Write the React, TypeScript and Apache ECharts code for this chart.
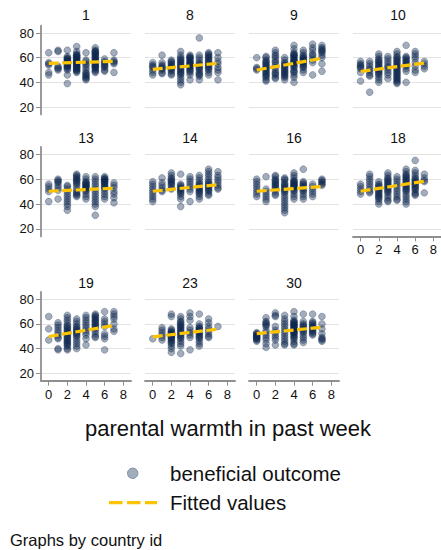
import React, { useEffect, useRef } from "react";
import * as echarts from "echarts";

// panel labels (country id), in reading order
const panelLabels = ["1", "8", "9", "10", "13", "14", "16", "18", "19", "23", "30"];

// beneficial outcome values, grouped by parental warmth (0..7)
const country1 = [
  [64, 56, 55, 54, 48, 46],
  [66, 65, 53, 52, 51, 50],
  [66, 61, 60, 59, 58, 57, 56, 55, 54, 53, 52, 51, 50, 46, 39, 59, 57, 55, 53],
  [69, 65, 63, 62, 61, 60, 59, 58, 57, 56, 55, 54, 53, 52, 51, 50, 49, 48, 62, 60, 58, 56, 54, 52, 50],
  [64, 58, 57, 55, 54, 52, 50, 48, 46, 44, 43, 42, 47, 45],
  [68, 66, 65, 64, 63, 62, 60, 59, 58, 57, 56, 55, 54, 53, 52, 51, 50, 49, 48, 65, 63, 61, 59, 57, 55, 53],
  [59, 57, 56, 55, 54, 53, 52, 50, 49],
  [64, 58, 57, 56, 55, 48],
];
const country8 = [
  [56, 54, 53, 52, 50, 48, 46],
  [62, 56, 54, 53, 51, 50, 48, 47, 52],
  [58, 57, 56, 55, 54, 53, 52, 51, 50, 49, 47, 46],
  [65, 62, 60, 59, 58, 57, 56, 55, 54, 53, 52, 51, 50, 49, 48, 47, 46, 44, 42, 40, 38],
  [62, 61, 60, 59, 58, 57, 56, 55, 54, 53, 52, 51, 50, 49, 48, 46, 42, 60, 56, 54],
  [76, 62, 60, 58, 56, 55, 54, 53, 52, 51, 50, 48, 47, 46, 45, 42],
  [64, 63, 62, 61, 60, 59, 58, 57, 56, 55, 54, 53, 52, 51, 50, 48, 46],
  [64, 60, 57, 55, 52, 50, 48, 42],
];
const country9 = [
  [60, 52, 51, 50],
  [61, 60, 58, 57, 56, 55, 54, 53, 52, 51, 50, 49, 48, 47, 46, 45, 44, 42, 41],
  [66, 64, 62, 61, 59, 57, 56, 54, 52, 50, 48, 47, 46, 44, 43],
  [60, 58, 56, 55, 54, 53, 52, 51, 50, 49, 48, 47, 46, 45, 44, 42],
  [70, 67, 64, 63, 62, 61, 60, 59, 58, 57, 56, 55, 54, 53, 52, 50, 49, 48, 46, 44, 40, 62, 58, 56],
  [66, 64, 62, 61, 60, 59, 58, 57, 56, 55, 54, 53, 52, 50, 48, 59, 57],
  [71, 68, 66, 63, 62, 60, 58, 56, 46],
  [70, 68, 67, 66, 65, 64, 62, 60, 55, 49],
];
const country10 = [
  [57, 55, 54, 53, 52, 51, 48, 41],
  [57, 55, 53, 51, 50, 48, 46, 45, 32],
  [63, 61, 59, 58, 57, 56, 55, 54, 53, 52, 51, 50, 49, 48, 47, 46, 44, 42, 40],
  [61, 59, 57, 55, 53, 52, 50, 48, 46, 43],
  [65, 63, 61, 60, 59, 58, 57, 56, 55, 54, 53, 52, 51, 50, 49, 48, 47, 46, 45, 44, 43, 42, 41, 40, 39],
  [70, 61, 60, 59, 58, 57, 56, 55, 54, 53, 51, 49, 40],
  [65, 63, 61, 59, 56, 53, 50, 48],
  [57, 55, 53, 51],
];
const country13 = [
  [56, 54, 52, 50, 42],
  [60, 59, 58, 57, 55, 53, 51, 44],
  [55, 54, 52, 50, 48, 46, 44, 42, 40, 38, 35],
  [64, 63, 62, 61, 60, 59, 58, 57, 56, 54, 52, 50, 49, 48, 47, 46],
  [62, 60, 58, 57, 56, 55, 54, 53, 52, 51, 50, 48, 46, 44, 57, 55, 53],
  [62, 60, 58, 56, 54, 52, 50, 48, 46, 44, 42, 40, 38, 31],
  [62, 61, 60, 59, 58, 57, 56, 55, 54, 53, 52, 50, 48, 46, 44, 60, 58],
  [57, 55, 53, 50, 48, 45, 41],
];
const country14 = [
  [58, 56, 54, 52, 50, 48, 46, 44, 42],
  [61, 57, 55, 53, 51, 50],
  [65, 63, 61, 60, 59, 58, 57, 56, 55, 53, 52],
  [64, 56, 55, 54, 53, 52, 51, 50, 49, 48, 46, 44, 38],
  [62, 60, 58, 56, 54, 52, 50, 42],
  [63, 61, 59, 57, 56, 55, 54, 53, 52, 51, 50, 49, 48, 46, 44],
  [68, 66, 64, 62, 60, 58, 57, 56, 55, 54, 53, 52, 51, 50, 48, 47],
  [66, 63, 61, 59, 57, 55, 53, 52],
];
const country16 = [
  [60, 58, 56, 54, 52, 50, 48, 46],
  [62, 52, 50, 48, 46, 44, 42],
  [63, 62, 60, 59, 58, 57, 56, 55, 54, 53, 52, 50, 48, 47],
  [61, 60, 59, 57, 56, 55, 54, 53, 52, 51, 50, 49, 47, 45, 43, 41, 39, 37, 35, 33],
  [65, 63, 61, 59, 58, 57, 56, 55, 54, 53, 52, 51, 50, 48, 46, 44, 58, 56, 54],
  [68, 58, 57, 56, 55, 54, 53, 52, 51, 50, 48, 46, 44],
  [56, 54, 52, 50, 48, 46],
  [60, 59, 58, 57, 56, 55],
];
const country18 = [
  [56, 54, 52, 50, 48],
  [64, 62, 60, 58, 56, 54, 52, 50, 49],
  [58, 56, 55, 54, 53, 52, 51, 50, 49, 48, 47, 46, 45, 44, 42, 40],
  [65, 63, 61, 60, 59, 58, 57, 56, 55, 54, 53, 52, 51, 50, 49, 47, 45, 43, 42],
  [62, 60, 58, 56, 54, 52, 50, 48, 46, 44, 43],
  [68, 66, 64, 63, 62, 61, 60, 59, 58, 57, 56, 55, 54, 53, 52, 51, 50, 48, 46, 44, 42, 40],
  [75, 67, 65, 63, 61, 60, 59, 58, 57, 56, 55, 54, 53, 52, 51, 49, 48, 47],
  [64, 61, 59, 58, 49],
];
const country19 = [
  [66, 56, 47],
  [61, 59, 57, 55, 53, 51, 49, 48, 40, 39],
  [67, 65, 63, 61, 59, 58, 57, 56, 55, 54, 53, 52, 51, 50, 49, 48, 47, 46, 45, 44, 43, 42, 40, 39],
  [64, 62, 60, 58, 57, 56, 55, 54, 53, 52, 51, 50, 48, 46, 44, 42, 40],
  [67, 65, 63, 61, 59, 57, 55, 53, 51, 48, 43],
  [68, 67, 66, 65, 64, 63, 62, 61, 60, 59, 58, 57, 56, 54, 52, 50, 49],
  [70, 64, 62, 60, 58, 52, 50, 48, 39],
  [70, 68, 66, 64, 60, 56, 54],
];
const country23 = [
  [48],
  [57, 55, 53, 51, 49, 47],
  [68, 66, 56, 55, 54, 53, 52, 51, 50, 49, 48, 47, 46, 45, 44, 42, 40, 37, 53, 51, 49],
  [66, 64, 62, 61, 60, 59, 58, 57, 56, 55, 54, 53, 52, 51, 50, 49, 48, 46, 44, 42, 36],
  [69, 66, 63, 57, 55, 53, 51, 49, 39],
  [68, 60, 58, 57, 56, 55, 54, 53, 52, 51, 50, 49, 48, 46, 44, 42, 56, 54],
  [64, 61, 58, 56, 54, 52, 50, 49],
  [58],
];
const country30 = [
  [53, 52, 51, 50, 49, 48, 47, 46, 52, 50, 48],
  [65, 62, 61, 60, 59, 58, 55, 53, 51, 49, 47, 44, 41],
  [69, 67, 66, 58, 55, 53, 51, 49, 47, 43],
  [67, 64, 62, 60, 58, 56, 54, 52, 50, 48, 46, 44, 43],
  [70, 66, 63, 62, 61, 60, 59, 58, 57, 56, 55, 54, 53, 52, 51, 50, 49, 48, 46, 44, 43, 61, 59, 57, 55, 53],
  [68, 62, 60, 59, 58, 57, 56, 55, 54, 53, 51, 49, 47, 45],
  [68, 62, 61, 60, 59, 58, 57, 56, 55, 54, 53, 52, 51],
  [66, 60, 56, 52, 49, 48, 47, 46],
];

// fitted values at warmth = 0 and warmth = 7
const fittedAt0 = [55.4, 50.5, 50.0, 48.8, 50.3, 50.3, 50.3, 50.3, 49.8, 49.6, 52.2];
const fittedAt7 = [57.0, 55.4, 59.5, 55.6, 52.7, 55.6, 54.0, 58.3, 58.8, 55.8, 57.3];
const fittedX = [0, 7];

const xTicks = [0, 2, 4, 6, 8];
const yTicks = [20, 40, 60, 80];

const panelData = [
  country1, country8, country9, country10, country13, country14,
  country16, country18, country19, country23, country30,
];

const FONT = "'Liberation Sans', Arial, Helvetica, sans-serif";

export default function App() {
  const ref = useRef<HTMLDivElement>(null);

  useEffect(() => {
    if (!ref.current) return;
    const chart = echarts.init(ref.current, undefined, { renderer: "svg" });

    const rowTops = [25.6, 146.8, 291.9];
    const rowHeights = [88.8, 89.6, 88.8];
    const titleY = [15, 138, 282.5];
    const colLeft = 41;
    const colStep = 104;
    const colWidth = 90;

    const grids: any[] = [];
    const xAxes: any[] = [];
    const yAxes: any[] = [];
    const series: any[] = [];
    const graphics: any[] = [];

    panelData.forEach((groups, i) => {
      const r = Math.floor(i / 4);
      const c = i % 4;
      const isLeft = c === 0;
      const isBottom = r === 2 || (r === 1 && c === 3);
      grids.push({
        left: colLeft + colStep * c,
        top: rowTops[r],
        width: colWidth,
        height: rowHeights[r],
        containLabel: false,
      });
      xAxes.push({
        type: "value",
        gridIndex: i,
        min: -0.83,
        max: 8.83,
        axisLine: { show: isBottom, onZero: false, lineStyle: { color: "#8f8f8f", width: 1.8 } },
        axisTick: { show: isBottom, customValues: xTicks, length: 5, lineStyle: { color: "#8f8f8f", width: 1 } },
        axisLabel: { show: isBottom, customValues: xTicks, margin: 7, fontSize: 13, color: "#111", fontFamily: FONT },
        splitLine: { show: false },
      });
      yAxes.push({
        type: "value",
        gridIndex: i,
        min: 14,
        max: 86,
        axisLine: { show: isLeft, onZero: false, lineStyle: { color: "#8f8f8f", width: 1.8 } },
        axisTick: { show: isLeft, customValues: yTicks, length: 5, lineStyle: { color: "#8f8f8f", width: 1 } },
        axisLabel: { show: isLeft, customValues: yTicks, margin: 7, fontSize: 13, color: "#111", fontFamily: FONT },
        splitLine: { show: true, lineStyle: { color: "#e3e3e3", width: 1 } },
      });
      const pts: number[][] = [];
      groups.forEach((vals, xi) => {
        vals.forEach((v) => pts.push([xi, v]));
      });
      series.push({
        type: "scatter",
        xAxisIndex: i,
        yAxisIndex: i,
        data: pts,
        symbol: "circle",
        symbolSize: 6.8,
        itemStyle: {
          color: "rgba(13, 40, 78, 0.48)",
          borderColor: "rgba(13, 40, 78, 0.45)",
          borderWidth: 0.8,
        },
        z: 2,
      });
      series.push({
        type: "line",
        xAxisIndex: i,
        yAxisIndex: i,
        data: fittedX.map((x, k) => [x, k === 0 ? fittedAt0[i] : fittedAt7[i]]),
        symbol: "none",
        lineStyle: { color: "#fcc400", width: 3.2, type: [10, 3.5] },
        z: 5,
      });
      graphics.push({
        type: "text",
        x: colLeft + colStep * c + colWidth / 2,
        y: titleY[r],
        style: {
          text: panelLabels[i],
          fontSize: 14,
          fontFamily: FONT,
          fill: "#111",
          textAlign: "center",
          textVerticalAlign: "middle",
        },
      });
    });

    graphics.push(
      {
        type: "text",
        x: 228,
        y: 428,
        style: {
          text: "parental warmth in past week",
          fontSize: 22,
          fontFamily: FONT,
          fill: "#111",
          textAlign: "center",
          textVerticalAlign: "middle",
        },
      },
      {
        type: "circle",
        shape: { cx: 132.7, cy: 473.3, r: 5.2 },
        style: { fill: "#a2adbb", stroke: "#7f8fa3", lineWidth: 1 },
      },
      {
        type: "text",
        x: 170,
        y: 473.3,
        style: {
          text: "beneficial outcome",
          fontSize: 20.5,
          fontFamily: FONT,
          fill: "#111",
          textAlign: "left",
          textVerticalAlign: "middle",
        },
      },
      {
        type: "line",
        shape: { x1: 109, y1: 502.7, x2: 157, y2: 502.7 },
        style: { stroke: "#fcc400", lineWidth: 3.2, lineDash: [13.5, 4.5] },
      },
      {
        type: "text",
        x: 170,
        y: 502.7,
        style: {
          text: "Fitted values",
          fontSize: 20.5,
          fontFamily: FONT,
          fill: "#111",
          textAlign: "left",
          textVerticalAlign: "middle",
        },
      },
      {
        type: "text",
        x: 10,
        y: 540,
        style: {
          text: "Graphs by country id",
          fontSize: 16.5,
          fontFamily: FONT,
          fill: "#111",
          textAlign: "left",
          textVerticalAlign: "middle",
        },
      }
    );

    chart.setOption({
      animation: false,
      backgroundColor: "#ffffff",
      textStyle: { fontFamily: FONT },
      grid: grids,
      xAxis: xAxes,
      yAxis: yAxes,
      series,
      graphic: graphics,
    });

    return () => chart.dispose();
  }, []);

  return (
    <div
      ref={ref}
      style={{ position: "fixed", left: 0, top: 0, width: 441, height: 550, background: "#fff" }}
    />
  );
}
